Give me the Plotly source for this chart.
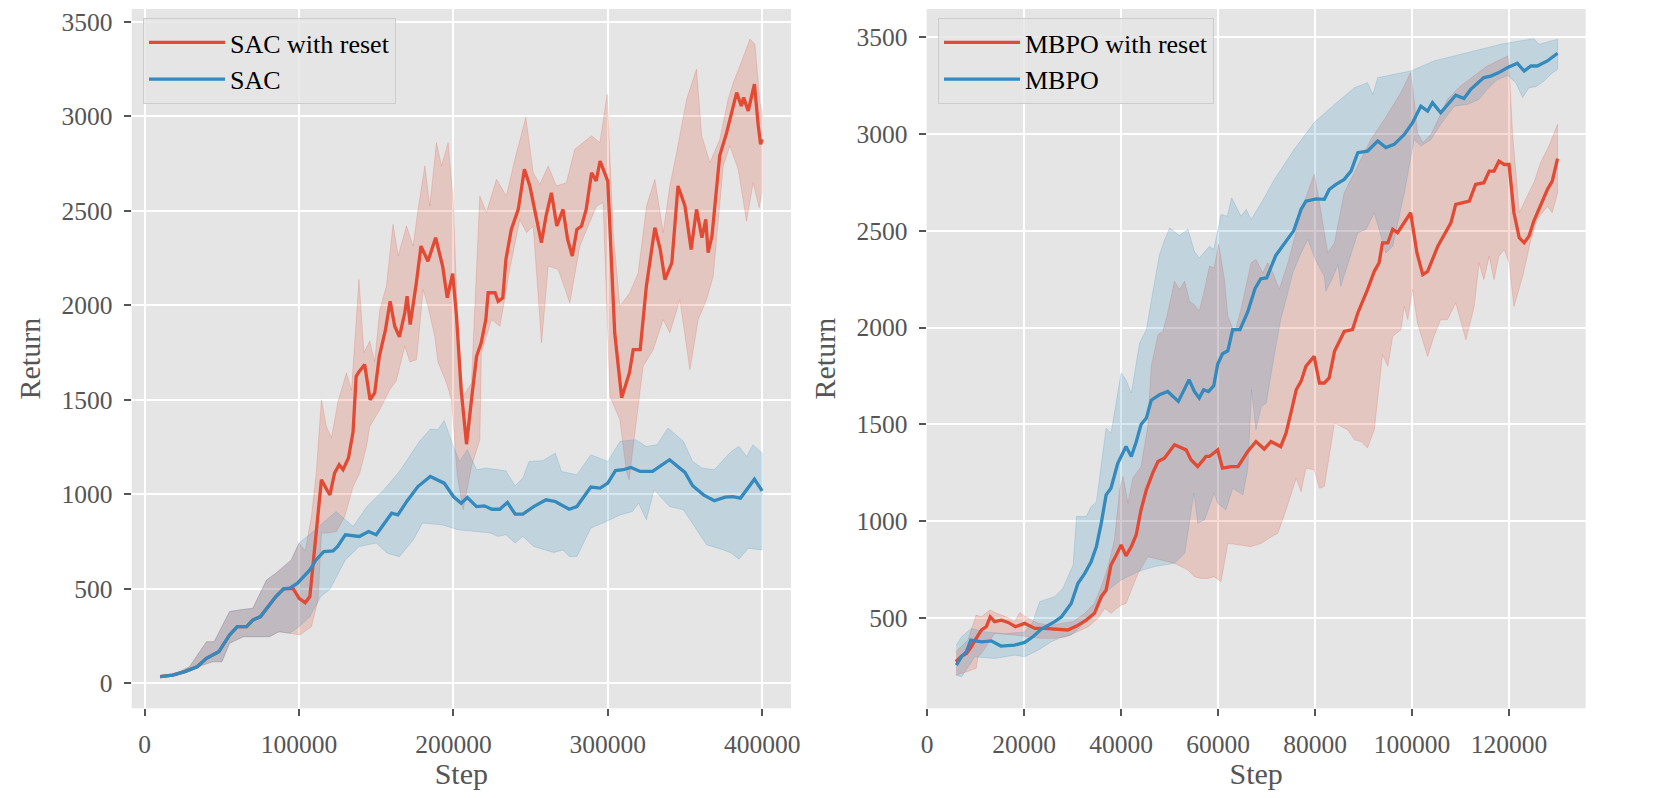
import plotly.graph_objects as go

# ---------------- Left panel: SAC ----------------
sac_x = [10000, 18000, 26000, 34000, 40000, 48000, 55000, 60000, 66000, 70000,
         75000, 81000, 85000, 90000, 94000, 99000, 107000, 111000, 116000, 122000,
         125000, 130000, 139000, 145000, 150000, 160000, 164000, 170000, 177000, 185000,
         194000, 200000, 205000, 209000, 215000, 220000, 225000, 230000, 235000, 240000,
         245000, 252000, 260000, 266000, 275000, 280000, 289000, 295000, 300000, 305000,
         310000, 315000, 321000, 329000, 340000, 350000, 355000, 362000, 369000, 376000,
         381000, 386000, 395000, 400000]
sac_y = [35, 44, 62, 88, 132, 167, 256, 300, 300, 335,
         353, 415, 459, 500, 503, 530, 600, 653, 697, 700,
         724, 786, 777, 803, 786, 900, 891, 965, 1041, 1094,
         1059, 988, 953, 983, 935, 939, 921, 921, 957, 895,
         895, 935, 971, 962, 921, 935, 1038, 1033, 1059, 1125,
         1130, 1142, 1121, 1121, 1183, 1116, 1045, 997, 966, 985,
         988, 980, 1080, 1018]
sac_up_x = [10000, 20000, 29000, 40000, 45000, 55000, 61000, 70000, 79000, 85000,
            95000, 100000, 108000, 118000, 124000, 135000, 144000, 155000, 165000, 178000,
            185000, 190000, 194000, 200000, 204000, 209000, 215000, 221000, 234000, 240000,
            245000, 249000, 258000, 266000, 270000, 280000, 289000, 300000, 308000, 318000,
            325000, 332000, 339000, 349000, 355000, 361000, 369000, 380000, 385000, 390000,
            394000, 400000]
sac_up_y = [38, 50, 88, 220, 220, 380, 388, 397, 547, 583,
            653, 742, 795, 865, 909, 830, 935, 1024, 1121, 1280,
            1345, 1342, 1391, 1253, 1174, 1236, 1130, 1139, 1124, 1045,
            1086, 1174, 1178, 1218, 1121, 1103, 1209, 1174, 1280, 1289,
            1253, 1262, 1351, 1280, 1174, 1139, 1130, 1227, 1253, 1200,
            1262, 1218]
sac_lo_x = [10000, 20000, 28000, 44000, 50000, 55000, 64000, 81000, 87000, 94000,
            100000, 107000, 114000, 120000, 130000, 139000, 150000, 157000, 165000, 174000,
            180000, 193000, 203000, 215000, 224000, 229000, 234000, 240000, 245000, 252000,
            265000, 271000, 275000, 280000, 289000, 299000, 308000, 316000, 320000, 325000,
            330000, 340000, 349000, 364000, 375000, 380000, 385000, 391000, 400000]
sac_lo_y = [32, 40, 70, 114, 114, 212, 247, 247, 273, 265,
            300, 353, 459, 498, 653, 724, 742, 689, 670, 759,
            848, 838, 812, 803, 795, 777, 786, 742, 777, 724,
            692, 706, 671, 671, 821, 856, 891, 909, 953, 865,
            1024, 935, 918, 733, 706, 689, 657, 715, 706]

# ---------------- Left panel: SAC with reset ----------------
sacr_x = [10000, 18000, 26000, 34000, 40000, 48000, 55000, 60000, 66000, 70000,
          75000, 81000, 85000, 90000, 94000, 96000, 100000, 104000, 107000, 109000,
          111000, 112500, 114500, 118000, 120000, 123000, 126000, 128500, 132000, 135000,
          137000, 139000, 142500, 146000, 149000, 152000, 156000, 159000, 162000, 165000,
          168500, 170000, 172000, 176000, 179000, 183500, 188500, 193000, 196000, 199500,
          202000, 205000, 208500, 211700, 215000, 218000, 221000, 222500, 227000, 229000,
          232000, 234000, 237500, 242000, 246000, 249500, 253000, 257000, 260000, 263500,
          267000, 271000, 274000, 277000, 280000, 283000, 286000, 289500, 292500, 295000,
          300000, 304500, 309000, 314000, 316500, 321000, 325000, 330500, 334000, 337000,
          341500, 345500, 350000, 354000, 357500, 361000, 363500, 365000, 367500, 372500,
          377000, 383500, 386500, 388000, 391000, 395000, 397500, 399000, 400000]
sacr_y = [35, 44, 62, 88, 132, 167, 256, 300, 300, 335,
          353, 415, 459, 500, 503, 503, 450, 427, 459, 618,
          759, 900, 1077, 1024, 997, 1112, 1156, 1130, 1192, 1330,
          1624, 1650, 1686, 1500, 1536, 1730, 1871, 2021, 1889, 1833,
          1960, 2048, 1898, 2119, 2313, 2233, 2357, 2207, 2039, 2167,
          1942, 1554, 1265, 1500, 1730, 1801, 1924, 2066, 2066, 2021,
          2039, 2242, 2401, 2507, 2719, 2631, 2498, 2331, 2471, 2595,
          2419, 2507, 2348, 2260, 2401, 2419, 2507, 2701, 2657, 2763,
          2657, 1854, 1510, 1642, 1765, 1765, 2101, 2410, 2295, 2136,
          2224, 2631, 2525, 2295, 2507, 2357, 2454, 2278, 2366, 2790,
          2913, 3125, 3054, 3099, 3028, 3169, 2948, 2851, 2878]
sacr_up_x = [10000, 20000, 29000, 40000, 45000, 55000, 61000, 70000, 79000, 85000,
             95000, 100000, 104000, 108000, 111000, 114500, 117700, 121000, 125300, 130700,
             134000, 138800, 142000, 145800, 149000, 152300, 156600, 160900, 164200, 169600,
             173900, 177100, 181500, 184700, 189000, 192300, 196600, 199800, 203000, 206300,
             211700, 217100, 221400, 227900, 234300, 239800, 246900, 251700, 256000, 261400,
             266700, 273200, 278600, 286200, 289500, 294900, 299600, 303500, 307800, 314300,
             319700, 325100, 330500, 335900, 340200, 344600, 351100, 357500, 360800, 366200,
             372600, 378000, 381300, 385600, 392100, 395300, 398600, 400000]
sacr_up_y = [38, 50, 88, 220, 220, 380, 388, 397, 547, 583,
             653, 742, 700, 883, 1100, 1500, 1359, 1300, 1492, 1642,
             1550, 2136, 1750, 1810, 1700, 1977, 2101, 2428, 2260, 2419,
             2313, 2507, 2737, 2525, 2860, 2737, 2860, 2560, 1854, 1518,
             1589, 2578, 2490, 2666, 2578, 2772, 2993, 2701, 2640, 2737,
             2631, 2648, 2825, 2878, 2896, 2860, 3116, 2384, 1995, 2066,
             2172, 2525, 2666, 2384, 2631, 2807, 3090, 3249, 2896, 2754,
             2878, 3090, 3178, 3266, 3408, 3381, 3072, 3019]
sacr_lo_x = [10000, 20000, 28000, 44000, 50000, 55000, 64000, 81000, 87000, 94000,
             100500, 104800, 108000, 112300, 114500, 118800, 124200, 129600, 135000, 139300,
             143700, 145800, 152300, 158800, 163000, 168500, 171800, 176100, 180400, 183500,
             187900, 190000, 195500, 198800, 202500, 206300, 211700, 217100, 218100, 224700,
             230100, 236500, 243000, 247400, 251700, 257100, 261400, 267900, 275400, 281900,
             287300, 292700, 297000, 301400, 307800, 312100, 313800, 316400, 322900, 329400,
             335900, 340200, 346700, 353200, 358600, 364000, 368300, 374800, 379100, 384500,
             389900, 394200, 398100, 400000]
sacr_lo_y = [32, 40, 70, 114, 114, 212, 247, 247, 273, 265,
             256, 282, 300, 441, 795, 795, 803, 883, 1041, 1112,
             1253, 1359, 1448, 1554, 1600, 1783, 1700, 1712, 2083, 1995,
             1836, 1700, 1589, 1500, 1100, 918, 1147, 1289, 1748, 1924,
             1889, 2189, 2454, 2384, 2419, 1801, 2207, 2189, 2013, 2313,
             2419, 2525, 2543, 1518, 1395, 1121, 1077, 1253, 1677, 1765,
             1924, 1854, 2030, 1659, 1924, 2030, 2154, 2737, 2843, 2719,
             2445, 2648, 2516, 2596]

# ---------------- Right panel: MBPO ----------------
mbpo_x = [6000, 7100, 8100, 9000, 11200, 13200, 15200, 18000, 20100, 21800,
          23500, 26300, 27700, 29700, 31100, 32500, 33800, 34900, 35900, 36900,
          37900, 39300, 41000, 42100, 43100, 44100, 45200, 46200, 47900, 49600,
          51800, 54000, 55100, 56100, 57000, 58000, 59100, 59900, 60900, 62000,
          63000, 64500, 66100, 67600, 68800, 70000, 71900, 74000, 75600, 77100,
          78100, 80200, 81900, 82900, 84300, 86000, 87400, 88800, 90800, 92900,
          94600, 96300, 98400, 100100, 101800, 103200, 104200, 105900, 107300, 109000,
          110700, 112100, 114800, 116200, 117900, 119700, 121700, 123100, 124500, 125800,
          127900, 130000]
mbpo_y = [259, 302, 328, 388, 379, 384, 357, 362, 376, 405,
          443, 483, 508, 577, 681, 732, 792, 870, 991, 1137,
          1171, 1300, 1386, 1335, 1410, 1500, 1533, 1625, 1653, 1670,
          1619, 1731, 1670, 1636, 1679, 1670, 1700, 1810, 1865, 1880,
          1989, 1989, 2080, 2200, 2252, 2256, 2372, 2445, 2500, 2609,
          2652, 2664, 2661, 2712, 2738, 2764, 2807, 2902, 2910, 2962,
          2928, 2945, 2996, 3057, 3142, 3117, 3160, 3108, 3151, 3198,
          3181, 3229, 3289, 3297, 3315, 3341, 3363, 3323, 3349, 3349,
          3375, 3415]
mbpo_up_x = [6000, 7100, 9100, 12000, 16000, 20100, 21800, 23200, 26300, 28000,
             30100, 30800, 32800, 33800, 34900, 36900, 37900, 40000, 41000, 42100,
             43800, 45200, 46500, 47900, 49000, 50000, 52000, 53800, 55100, 56100,
             58200, 59100, 60600, 61900, 62800, 64700, 65800, 66800, 68900, 71600,
             75700, 79800, 84000, 88100, 90800, 91900, 92900, 97700, 99700, 104500,
             110000, 115500, 118300, 121000, 125100, 126200, 130000]
mbpo_up_y = [362, 405, 448, 430, 420, 430, 483, 586, 612, 655,
             775, 1025, 1025, 1076, 1102, 1481, 1455, 1765, 1731, 1662,
             1920, 1989, 2179, 2376, 2454, 2514, 2475, 2506, 2393, 2359,
             2419, 2402, 2583, 2574, 2669, 2574, 2609, 2557, 2643, 2764,
             2919, 3057, 3151, 3237, 3263, 3203, 3289, 3315, 3323, 3375,
             3409, 3444, 3461, 3473, 3490, 3461, 3487]
mbpo_lo_x = [6000, 7100, 9800, 13900, 18000, 20100, 22900, 25600, 27700, 29700,
             33200, 35200, 37300, 40000, 43500, 46900, 51000, 53100, 55000, 55800,
             57200, 59200, 59900, 61600, 63000, 65100, 66100, 66900, 67800, 68900,
             69900, 71300, 72900, 74000, 75400, 77100, 78500, 80200, 81900, 82200,
             83600, 84700, 85300, 86700, 88800, 90500, 92200, 94600, 96000, 98400,
             100400, 101800, 103900, 105900, 108700, 111400, 113800, 115500, 117600, 119700,
             121400, 122800, 124100, 125500, 127200, 128600, 130000]
mbpo_lo_y = [207, 198, 302, 293, 310, 302, 336, 379, 402, 414,
             491, 560, 646, 698, 741, 767, 784, 836, 1146, 991,
             1008, 1146, 1094, 1059, 1171, 1137, 1266, 1679, 1473, 1593,
             1610, 1817, 2041, 2144, 2282, 2385, 2454, 2342, 2264, 2187,
             2256, 2325, 2213, 2316, 2489, 2506, 2592, 2385, 2419, 2695,
             2970, 2936, 2970, 3048, 3142, 3151, 3177, 3229, 3280, 3300,
             3263, 3186, 3237, 3242, 3271, 3306, 3332]

# ---------------- Right panel: MBPO with reset ----------------
mbpor_x = [5900, 7100, 8100, 9100, 10100, 11200, 12200, 13000, 13900, 15300,
           16700, 18200, 20100, 22200, 24200, 26300, 27700, 29000, 30800, 32800,
           34500, 35900, 36900, 37900, 39000, 40000, 41000, 42100, 43100, 44100,
           45200, 46500, 47600, 48900, 51000, 52400, 53400, 54400, 55800, 57500,
           58200, 59900, 60900, 62700, 64100, 66100, 67800, 69500, 70900, 72900,
           74000, 75000, 76100, 77100, 78100, 79800, 80900, 81900, 82900, 84000,
           86000, 87700, 88800, 90800, 92200, 93200, 93900, 95000, 96000, 97000,
           99700, 101000, 102200, 103200, 105300, 108000, 109000, 111800, 113100, 114800,
           115900, 116900, 117900, 119000, 120000, 121000, 122100, 123100, 124100, 125100,
           126500, 127900, 128900, 130000]
mbpor_y = [276, 305, 319, 353, 397, 440, 457, 508, 483, 491,
           479, 457, 474, 448, 448, 443, 443, 440, 460, 491,
           526, 612, 646, 775, 827, 879, 822, 870, 930, 1059,
           1163, 1249, 1309, 1326, 1395, 1378, 1369, 1318, 1283, 1335,
           1335, 1369, 1275, 1283, 1283, 1361, 1412, 1373, 1412, 1386,
           1455, 1559, 1679, 1722, 1800, 1851, 1714, 1714, 1740, 1877,
           1980, 1989, 2075, 2196, 2290, 2334, 2437, 2437, 2506, 2489,
           2592, 2385, 2273, 2290, 2419, 2540, 2635, 2652, 2738, 2747,
           2807, 2807, 2858, 2841, 2841, 2592, 2463, 2437, 2471, 2549,
           2626, 2712, 2755, 2871]
mbpor_up_x = [5900, 8400, 10100, 11200, 12900, 14300, 16300, 18000, 19100, 20800,
              22900, 25600, 27700, 30100, 32500, 34500, 35900, 37300, 38600, 39700,
              40400, 41400, 42400, 44100, 45500, 46200, 47600, 48600, 49600, 51000,
              52000, 53100, 54100, 55100, 56100, 57200, 58200, 59200, 60100, 61300,
              62000, 63400, 64700, 66800, 67800, 69200, 70200, 71300, 72600, 74400,
              75700, 77100, 79800, 80900, 82600, 84000, 86000, 88800, 91500, 94300,
              97700, 99700, 100400, 101100, 102200, 103900, 105300, 107300, 110000, 112800,
              115500, 119700, 120000, 120700, 122100, 123400, 125100, 126500, 128200, 130000]
mbpor_up_y = [328, 388, 517, 508, 543, 526, 508, 483, 529, 500,
              474, 465, 474, 483, 526, 577, 663, 767, 904, 1163,
              1231, 1094, 1223, 1283, 1490, 1800, 1963, 1980, 2075, 2239,
              2196, 2239, 2135, 2118, 2084, 2196, 2316, 2308, 2430, 2247,
              2058, 1972, 2092, 2334, 2351, 2282, 2334, 2282, 2196, 2334,
              2454, 2600, 2790, 2643, 2385, 2437, 2695, 2833, 2970, 3074,
              3212, 3315, 3177, 3005, 2953, 2996, 3074, 3177, 3246, 3297,
              3349, 3401, 3349, 3005, 2592, 2661, 2747, 2850, 2936, 3048]
mbpor_lo_x = [5900, 7100, 8100, 10100, 10500, 11200, 13900, 18000, 20800, 23500,
              26300, 28700, 33200, 35200, 36600, 37900, 40000, 41000, 43500, 45500,
              48300, 51000, 53800, 55100, 56500, 57900, 59200, 60600, 62000, 64700,
              66800, 68900, 71000, 72300, 74000, 76100, 77100, 78100, 79800, 80900,
              81900, 84000, 86700, 88100, 89500, 90800, 92200, 93900, 95000, 96000,
              97700, 98400, 99100, 100100, 101100, 103200, 104500, 105900, 107300, 109000,
              111100, 112800, 113800, 114800, 115900, 116900, 117900, 119000, 120000, 121000,
              122800, 124500, 125800, 127900, 128900, 130000]
mbpor_lo_y = [207, 216, 224, 242, 302, 319, 423, 414, 405, 397,
              397, 405, 457, 500, 552, 526, 569, 577, 732, 818,
              801, 784, 749, 715, 706, 706, 715, 689, 887, 879,
              870, 887, 921, 939, 1059, 1223, 1154, 1275, 1266, 1171,
              1180, 1507, 1473, 1421, 1412, 1378, 1473, 1860, 1800, 1955,
              1989, 2109, 2041, 2196, 2024, 1851, 1955, 2041, 2041, 2127,
              1937, 2109, 2334, 2247, 2368, 2247, 2368, 2402, 2334, 2109,
              2264, 2454, 2557, 2626, 2592, 2695]

left_xticks = [0, 100000, 200000, 300000, 400000]
left_yticks = [0, 500, 1000, 1500, 2000, 2500, 3000, 3500]
right_xticks = [0, 20000, 40000, 60000, 80000, 100000, 120000]
right_yticks = [500, 1000, 1500, 2000, 2500, 3000, 3500]

RED = "#E24A33"
BLUE = "#348ABD"
RED_FILL = "rgba(226,74,51,0.2)"
BLUE_FILL = "rgba(52,138,189,0.2)"
FONT = "Liberation Serif"

# the page body has an 8px margin, so the figure is 16px smaller than the window
W, H = 1643, 782

fig = go.Figure()


def band(xu, yu, xl, yl, fillc, xa, ya):
    return go.Scatter(
        x=list(xu) + list(xl)[::-1], y=list(yu) + list(yl)[::-1],
        fill="toself", fillcolor=fillc, mode="lines",
        line=dict(color=fillc, width=1), showlegend=False,
        hoverinfo="skip", xaxis=xa, yaxis=ya)


def line(x, y, color, name, xa, ya, lg):
    return go.Scatter(x=x, y=y, mode="lines", name=name,
                      line=dict(color=color, width=3.3),
                      xaxis=xa, yaxis=ya, legend=lg)


# left panel
fig.add_trace(band(sacr_up_x, sacr_up_y, sacr_lo_x, sacr_lo_y, RED_FILL, "x", "y"))
fig.add_trace(band(sac_up_x, sac_up_y, sac_lo_x, sac_lo_y, BLUE_FILL, "x", "y"))
fig.add_trace(line(sacr_x, sacr_y, RED, "SAC with reset", "x", "y", "legend"))
fig.add_trace(line(sac_x, sac_y, BLUE, "SAC", "x", "y", "legend"))
# right panel
fig.add_trace(band(mbpor_up_x, mbpor_up_y, mbpor_lo_x, mbpor_lo_y, RED_FILL, "x2", "y2"))
fig.add_trace(band(mbpo_up_x, mbpo_up_y, mbpo_lo_x, mbpo_lo_y, BLUE_FILL, "x2", "y2"))
fig.add_trace(line(mbpor_x, mbpor_y, RED, "MBPO with reset", "x2", "y2", "legend2"))
fig.add_trace(line(mbpo_x, mbpo_y, BLUE, "MBPO", "x2", "y2", "legend2"))

axis_common = dict(
    showgrid=True, gridcolor="white", gridwidth=1.6, zeroline=False,
    showline=False, ticks="outside", ticklen=7, tickwidth=1.5,
    tickcolor="#555555", tickfont=dict(family=FONT, size=25.5, color="#555555"),
    tickformat="d", ticklabelstandoff=6, automargin=False,
    ticklabeloverflow="allow",
)
title_font = dict(family=FONT, size=30, color="#555555")

ydom = [1 - 700.3 / H, 1 - 1.0 / H]
legend_common = dict(xanchor="left", yanchor="top", y=1 - 10 / H,
                     bgcolor="rgba(229,229,229,0.8)", bordercolor="#CCCCCC",
                     borderwidth=1, itemwidth=76,
                     font=dict(family=FONT, size=26, color="black"))
fig.update_layout(
    width=W, height=H,
    margin=dict(l=0, r=0, t=0, b=0),
    paper_bgcolor="white", plot_bgcolor="#E5E5E5",
    font=dict(family=FONT, color="#555555"),
    xaxis=dict(domain=[123.7 / W, 783.0 / W], anchor="y", range=[-8420, 418700],
               tickvals=left_xticks,
               title=dict(text="Step", font=title_font, standoff=8),
               **axis_common),
    yaxis=dict(domain=ydom, anchor="x", range=[-132, 3567], tickvals=left_yticks,
               title=dict(text="Return", font=title_font, standoff=12),
               **axis_common),
    xaxis2=dict(domain=[918.7 / W, 1577.7 / W], anchor="y2", range=[-100, 135800],
                tickvals=right_xticks,
                title=dict(text="Step", font=title_font, standoff=8),
                **axis_common),
    yaxis2=dict(domain=ydom, anchor="x2", range=[36, 3643], tickvals=right_yticks,
                title=dict(text="Return", font=title_font, standoff=12),
                **axis_common),
    legend=dict(x=135 / W, **legend_common),
    legend2=dict(x=930 / W, **legend_common),
)

fig.write_html("out.html")
